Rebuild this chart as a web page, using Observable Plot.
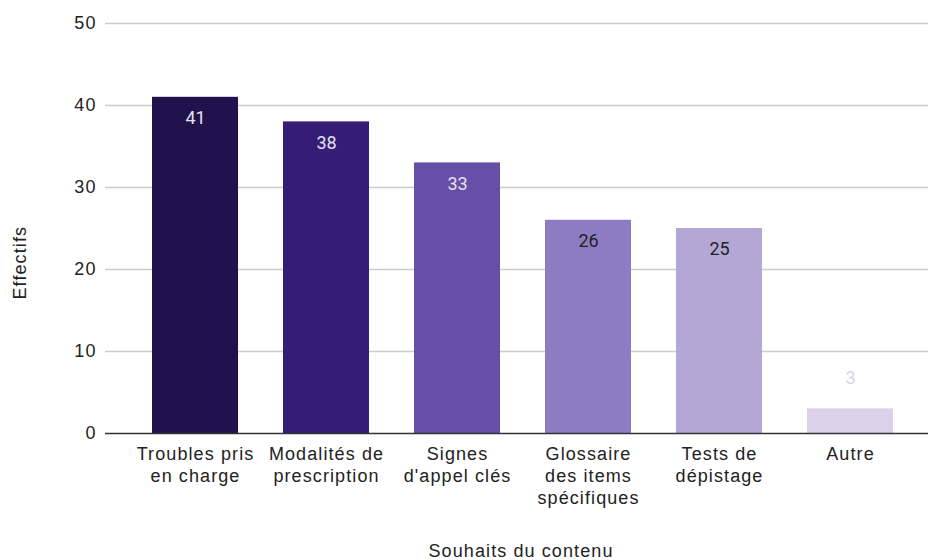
<!DOCTYPE html>
<html>
<head>
<meta charset="utf-8">
<script src="https://cdn.jsdelivr.net/npm/d3@7"></script>
<script src="https://cdn.jsdelivr.net/npm/@observablehq/plot@0.6"></script>
<style>
  html, body { margin: 0; padding: 0; background: #fff; }
  .wide text, text.wide { letter-spacing: 1.1px; }
</style>
</head>
<body>
<div id="chart"></div>
<script>
const categories = ["Troubles pris en charge", "Modalités de prescription", "Signes d'appel clés", "Glossaire des items spécifiques", "Tests de dépistage", "Autre"];
const tickLabels = ["Troubles pris\nen charge", "Modalités de\nprescription", "Signes\nd'appel clés", "Glossaire\ndes items\nspécifiques", "Tests de\ndépistage", "Autre"];
const values = [41, 38, 33, 26, 25, 3];
const yTicks = [0, 10, 20, 30, 40, 50];
const palette = ["#20124d", "#351c75", "#674ea7", "#8e7cc3", "#b4a7d6", "#d9d2e9"];
const labelColors = ["#e4e0f0", "#e4e0f0", "#e4e0f0", "#222222", "#222222", "#d9d2e9"];
const yTitle = "Effectifs";
const xTitle = "Souhaits du contenu";

const data = categories.map((c, i) => ({cat: c, value: values[i], label: tickLabels[i], lc: labelColors[i]}));
const inside = data.filter(d => d.value >= 10);
const outside = data.filter(d => d.value < 10);

const chart = Plot.plot({
  width: 928,
  height: 560,
  marginLeft: 105,
  marginRight: 0,
  marginTop: 23,
  marginBottom: 127,
  style: {fontFamily: "'Liberation Sans', Arial, sans-serif", fontSize: "18px", color: "#222"},
  x: {domain: categories, paddingInner: 0.346, paddingOuter: 0, insetLeft: 45, insetRight: 33, label: null},
  y: {domain: [0, 50], label: null},
  color: {domain: categories, range: palette},
  marks: [
    Plot.ruleY(yTicks.filter(t => t > 0), {stroke: "#cccccc", strokeWidth: 1.3}),
    Plot.barY(data, {x: "cat", y: "value", fill: "cat"}),
    Plot.ruleY([0], {stroke: "#333333", strokeWidth: 1.6}),
    Plot.axisY({ticks: yTicks, tickSize: 0, tickPadding: 9, label: null, fontSize: 18, fill: "#222", className: "wide"}),
    Plot.axisX({tickSize: 0, tickPadding: 11, label: null, fontSize: 18, lineHeight: 1.22,
      tickFormat: d => tickLabels[categories.indexOf(d)], fill: "#222", className: "wide"}),
    Plot.text(inside, {x: "cat", y: "value", text: d => String(d.value), fill: "lc",
      dy: 21, fontFamily: "Roboto, sans-serif", fontSize: 18}),
    Plot.text(outside, {x: "cat", y: "value", text: d => String(d.value), fill: "lc",
      dy: -31, fontFamily: "Roboto, sans-serif", fontSize: 18}),
    Plot.text([yTitle], {frameAnchor: "left", text: d => d, rotate: -90, dx: -85, dy: 71, fontSize: 18, fill: "#222", className: "wide"}),
    Plot.text([xTitle], {frameAnchor: "bottom", text: d => d, dx: 4, dy: 123, fontSize: 18, fill: "#222", className: "wide"})
  ]
});
document.getElementById("chart").appendChild(chart);
</script>
</body>
</html>
